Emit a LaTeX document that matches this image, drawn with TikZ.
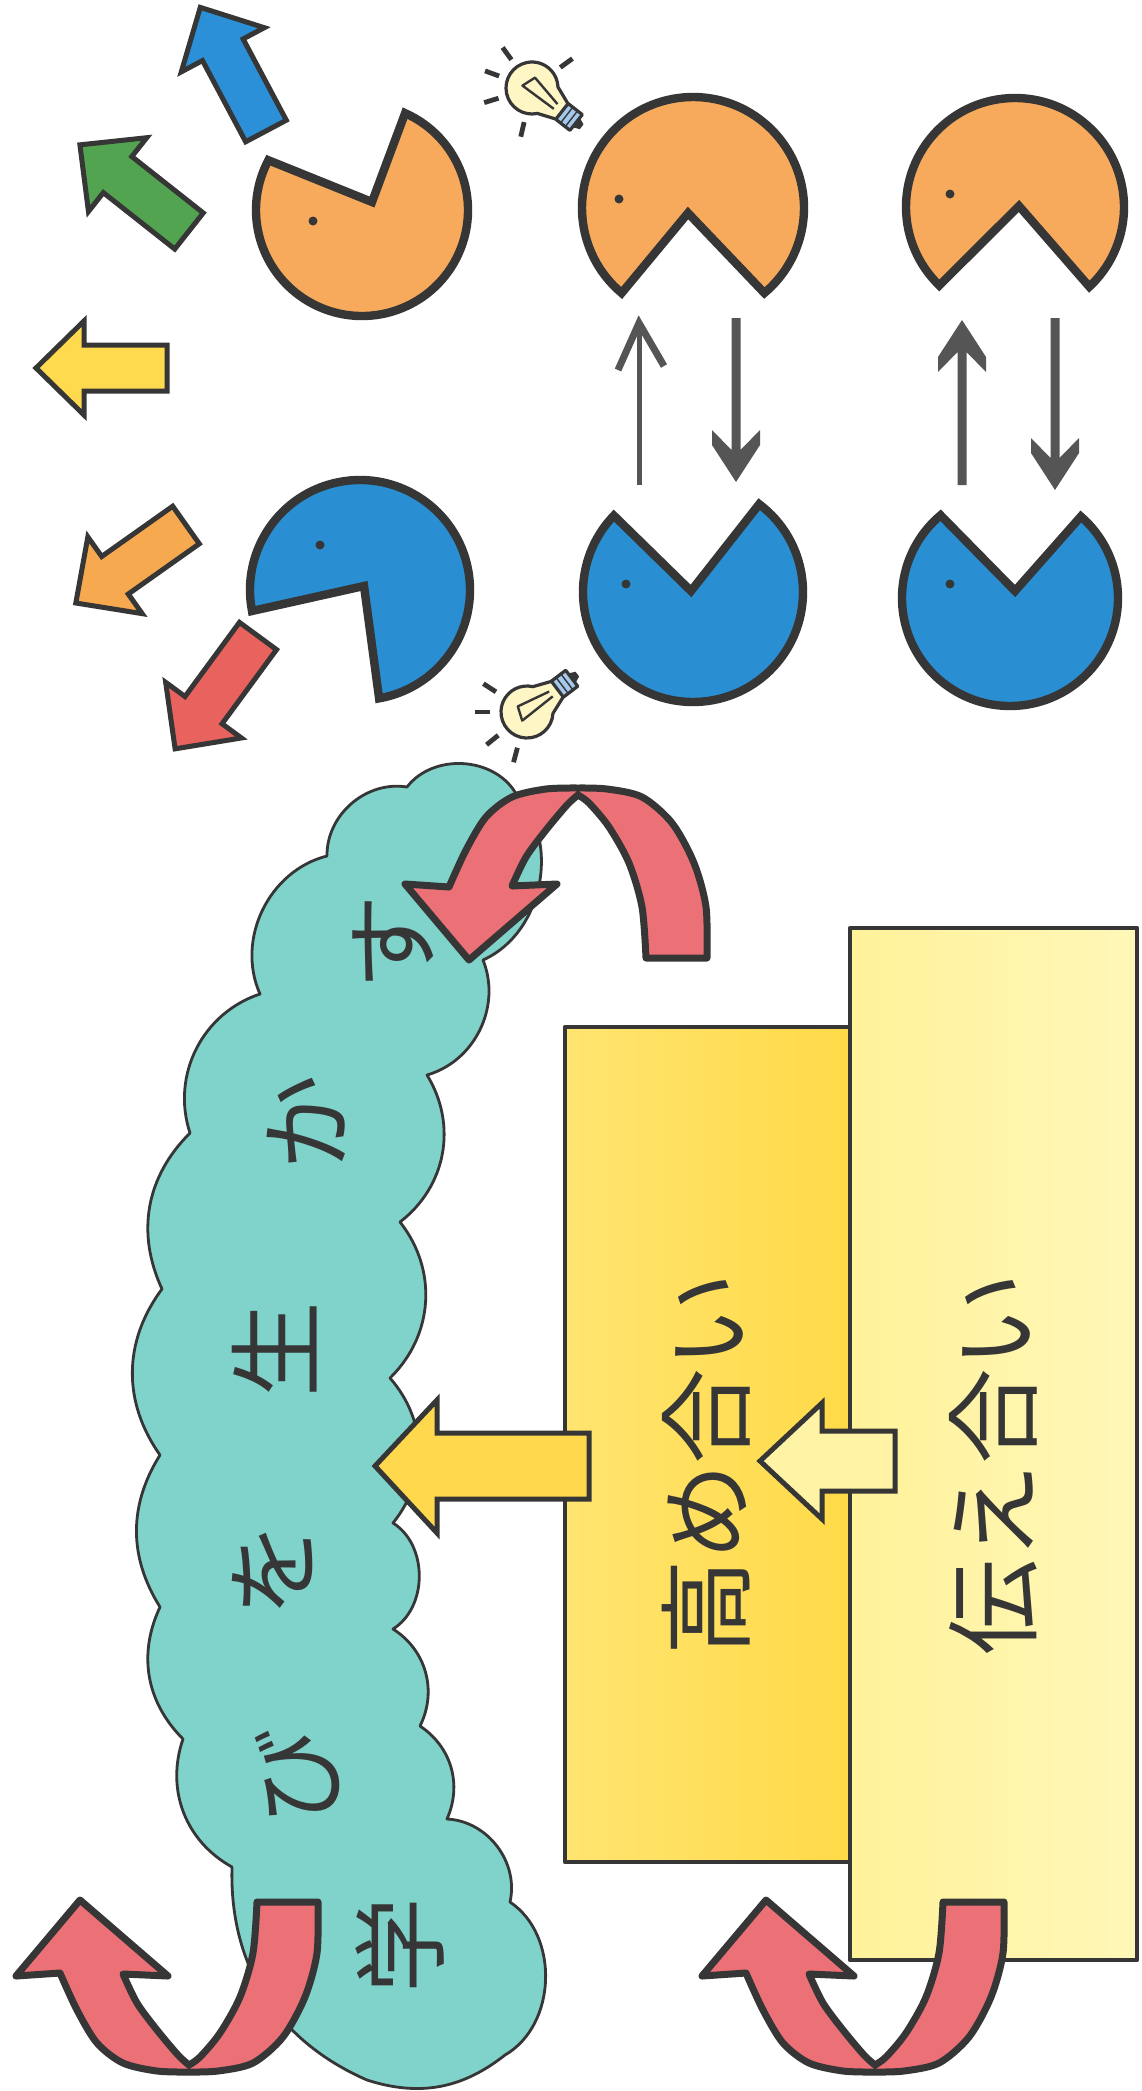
\documentclass[tikz,border=0pt]{standalone}
\usepackage{fontspec}
\newfontfamily\jp{Noto Sans CJK JP}
\definecolor{inkc}{HTML}{363636}
\definecolor{pacorange}{HTML}{F8AA5C}
\definecolor{pacblue}{HTML}{2A8FD2}
\definecolor{arrblue}{HTML}{2C90D8}
\definecolor{arrgreen}{HTML}{52A451}
\definecolor{arryellow}{HTML}{FFD94E}
\definecolor{arrorange}{HTML}{F6A94F}
\definecolor{arrred}{HTML}{E8635D}
\definecolor{cloudc}{HTML}{80D3CA}
\definecolor{ribbonc}{HTML}{EC7177}
\definecolor{goldc}{HTML}{FFD84E}
\definecolor{paleyellow}{HTML}{FFF3A6}
\definecolor{bulbc}{HTML}{FFF6C6}
\definecolor{socketc}{HTML}{A5C9EC}
\definecolor{grayc}{HTML}{555555}
\definecolor{boxaleft}{HTML}{FFE470}
\definecolor{boxaright}{HTML}{FFDA48}
\definecolor{boxbleft}{HTML}{FFF29A}
\definecolor{boxbright}{HTML}{FFF7B8}

\tikzset{
  pacline/.style={draw=inkc, line width=2.1mm, line join=miter},
  blockline/.style={draw=inkc, line width=1.25mm, line join=miter},
  boxline/.style={draw=inkc, line width=1.2mm},
  cloudedge/.style={draw=inkc, line width=0.7mm, fill=cloudc},
  ribbon/.style={draw=inkc, fill=ribbonc, line width=1.75mm, line join=round},
  bulbline/.style={draw=inkc, line width=0.8mm},
  ray/.style={draw=inkc, line width=1.2mm},
  jptext/.style={font=\jp\fontsize{68pt}{70pt}\selectfont, text=inkc, inner sep=0pt, rotate=90},
}

% straight block arrow: colour, tail x, tail y, rotation, length
\newcommand\blockarrow[5]{%
  \begin{scope}[shift={(#2,#3)}, rotate=#4]
    \draw[blockline, fill=#1] (0,-23) -- ({#5-48},-23) -- ({#5-48},-47) -- (#5,0)
      -- ({#5-48},47) -- ({#5-48},23) -- (0,23) -- cycle;
  \end{scope}}

% pac-man: colour, centre x, centre y, radius, arc start, arc end, mouth x, mouth y, eye
\newcommand\pacman[9]{%
  \draw[pacline, fill=#1] (#7,#8) -- ([shift={(#2,#3)}]#5:#4)
    arc[start angle=#5, end angle=#6, radius=#4] -- cycle;
  \fill[inkc] (#9) circle[radius=4.5];}

% barbed grey arrow: x, tail y, length, direction (1 down, -1 up)
\newcommand\barb[4]{%
  \begin{scope}[shift={(#1,#2)}, yscale=#4]
    \fill[grayc] (-4.5,0) -- (-4.5,{#3-32}) -- (-24,{#3-52}) -- (-24,{#3-37}) -- (0,#3)
      -- (24,{#3-37}) -- (24,{#3-52}) -- (4.5,{#3-32}) -- (4.5,0) -- cycle;
  \end{scope}}

% folded red U-turn ribbon: tail x, tail y, vertical flip
\newcommand\uturn[3]{%
  \begin{scope}[shift={(#1,#2)}, yscale=#3]
    \draw[ribbon] plot[smooth] coordinates {(-31,0) (-35,51) (-48,95) (-68,131) (-88,155) (-99,163)}
      -- plot[smooth] coordinates {(-99,163) (-110,153) (-131,128) (-151,101) (-165,72)}
      -- (-120,74) -- (-208,-2) -- (-272,74) -- (-228,71)
      -- plot[smooth] coordinates {(-228,71) (-211,108) (-191,141) (-165,161) (-131,169) (-99,170)}
      -- plot[smooth] coordinates {(-99,170) (-70,169) (-35,161) (-5,135) (17,95) (29,51) (30,0)}
      -- cycle;
  \end{scope}}

% light bulb: globe x, globe y, rotation
\newcommand\bulb[3]{%
  \begin{scope}[shift={(#1,#2)}, rotate=#3]
    \draw[bulbline, fill=bulbc] (40:26) arc[start angle=40, end angle=320, radius=26]
      -- (40,-9) -- (40,9) -- cycle;
    \draw[inkc, line width=0.6mm] (30,-3) -- (-4,-10) -- (-9,4) -- (30,3);
    \draw[bulbline, fill=socketc] (38,-10) rectangle (56,10);
    \draw[inkc, line width=0.35mm] (44,-10) -- (44,10) (50,-10) -- (50,10);
    \fill[inkc] (56,-6) -- (63,-3) -- (63,3) -- (56,6) -- cycle;
  \end{scope}}

\begin{document}
\begin{tikzpicture}[x=0.25mm, y=-0.25mm, line join=round]
\useasboundingbox (0,0) rectangle (1141,2091);
\fill[white] (0,0) rectangle (1141,2091);

% ---- cloud: scalloped outline, bumps between valley points ----
\draw[cloudedge] (407,787) to[bend left=55] (515,792) to[bend left=55] (483,960)
  to[bend left=48] (427,1075) to[bend left=42] (400,1222) to[bend left=42] (390,1378)
  to[bend left=40] (393,1523) to[bend left=58] (393,1629) to[bend left=42] (420,1726)
  to[bend left=40] (447,1819) to[bend left=50] (510,1902) to[bend left=58] (505,2055)
  to[bend left=28] (367,2080) to[bend left=34] (232,1867) to[bend left=40] (183,1739)
  to[bend left=35] (160,1607) to[bend left=32] (160,1455) to[bend left=36] (162,1289)
  to[bend left=35] (190,1133) to[bend left=45] (260,994) to[bend left=50] (327,856)
  to[bend left=50] (407,787) -- cycle;

% ---- the two panels ----
\draw[boxline, left color=boxbleft, right color=boxbright] (850,928) rectangle (1137,1960);
\draw[boxline, left color=boxaleft, right color=boxaright] (565,1027) rectangle (850,1862);
\coordinate (tsutaebox) at (993,1464);
\coordinate (takamebox) at (706,1464);

% ---- yellow block arrows between panels and cloud ----
\draw[blockline, fill=goldc] (589,1433) -- (437,1433) -- (437,1400) -- (375,1466)
  -- (437,1533) -- (437,1499) -- (589,1499) -- cycle;
\draw[blockline, fill=paleyellow] (895,1431) -- (822,1431) -- (822,1403) -- (760,1461)
  -- (822,1519) -- (822,1491) -- (895,1491) -- cycle;

% ---- red U-turn ribbons ----
\uturn{677}{958}{-1}
\uturn{288}{1902}{1}
\uturn{974}{1902}{1}

% ---- coloured arrows flying off ----
\blockarrow{arrblue}{266}{131}{118}{140}
\blockarrow{arrgreen}{189}{231}{141.7}{139}
\blockarrow{arryellow}{167}{368}{180}{131}
\blockarrow{arrorange}{186}{525}{-144.7}{135}
\blockarrow{arrred}{258}{636}{-126.3}{140}

% ---- pac-men ----
\pacman{pacorange}{362}{210}{106}{-66}{208}{372}{202}{313,221}
\pacman{pacblue}{360}{590}{110}{169}{440}{364}{586}{320,545}
\pacman{pacorange}{693}{208}{111}{130}{410}{688}{213}{619,199}
\pacman{pacblue}{693}{592}{110}{307}{584}{691}{591}{626,584}
\pacman{pacorange}{1015}{207}{109}{134}{407}{1019}{206}{950,194}
\pacman{pacblue}{1010}{598}{108}{311}{590}{1015}{591}{950,584}

% ---- grey exchange arrows ----
\draw[grayc, line width=1.25mm] (639,485) -- (639,326);
\draw[grayc, line width=1.75mm, line cap=butt, line join=miter] (618,370) -- (639,323) -- (664,366);
\barb{736}{318}{164}{1}
\barb{962}{485}{165}{-1}
\barb{1055}{318}{172}{1}

% ---- light bulbs ----
\bulb{532}{88}{-38}
\foreach \a in {234,200,163,103,324} { \draw[ray] ([shift={(532,88)}]\a:35) -- ([shift={(532,88)}]\a:50); }
\bulb{527}{712}{37}
\foreach \a in {213,180,141,105} { \draw[ray] ([shift={(527,712)}]\a:37) -- ([shift={(527,712)}]\a:52); }

% ---- texts ----
\node[jptext] (takame) at (takamebox) {高め合い};
\node[jptext] (tsutae) at (tsutaebox) {伝え合い};
\node[jptext] (c6) at (393,943) {す};
\node[jptext] (c5) at (306,1123) {か};
\node[jptext] (c4) at (275,1350) {生};
\node[jptext] (c3) at (273,1570) {を};
\node[jptext] (c2) at (298,1777) {び};
\node[jptext] (c1) at (400,1946) {学};
\end{tikzpicture}
\end{document}
